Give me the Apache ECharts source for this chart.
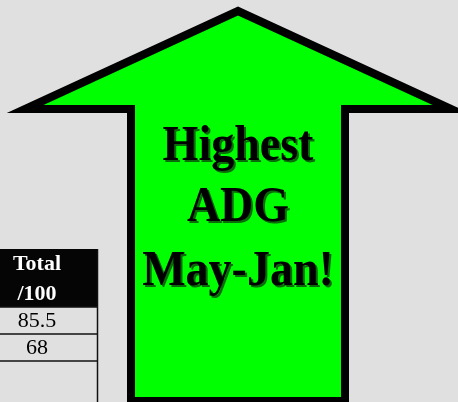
<!DOCTYPE html>
<html>
<head>
<meta charset="utf-8">
<script src="https://cdn.jsdelivr.net/npm/echarts@6/dist/echarts.min.js"></script>
<style>
  html, body { margin: 0; padding: 0; background: #e0e0e0; }
  #chart { width: 458px; height: 402px; }
</style>
</head>
<body>
<div id="chart"></div>
<script>
// table column (cut off on the left)
var headerLines = ['Total', '/100'];
var totalValues = [85.5, 68];
// arrow caption
var arrowLines = ['Highest', 'ADG', 'May-Jan!'];

var chart = echarts.init(document.getElementById('chart'));

var serif = '"Liberation Serif", "Times New Roman", serif';
var graphics = [];

// arrow outline (stroke centre line)
graphics.push({
    type: 'polygon',
    shape: {
        points: [[238, 11], [25, 109], [131, 109], [131, 401], [345, 401], [345, 109], [451, 109]]
    },
    style: { fill: '#00ff00', stroke: '#000', lineWidth: 8, lineJoin: 'miter' }
});

// caption, with a dark green drop shadow
var lineY = [147, 208, 272];
for (var i = 0; i < arrowLines.length; i++) {
    graphics.push({
        type: 'text', x: 240, y: lineY[i] + 2, scaleY: 1.1,
        style: { text: arrowLines[i], fill: '#0b6b0b', font: 'bold 46px ' + serif,
                 textAlign: 'center', textVerticalAlign: 'middle' }
    });
    graphics.push({
        type: 'text', x: 238, y: lineY[i], scaleY: 1.1,
        style: { text: arrowLines[i], fill: '#000', font: 'bold 46px ' + serif,
                 textAlign: 'center', textVerticalAlign: 'middle' }
    });
}

// table header
graphics.push({
    type: 'rect', shape: { x: -20, y: 249, width: 118, height: 58 },
    style: { fill: '#050505' }
});
graphics.push({
    type: 'text', x: 37, y: 279,
    style: { text: headerLines.join('\n'), fill: '#fff', font: 'bold 22px ' + serif,
             lineHeight: 30, textAlign: 'center', textVerticalAlign: 'middle' }
});

// table rows
var rowTop = 307, rowH = 27;
for (var r = 0; r < totalValues.length; r++) {
    graphics.push({
        type: 'line', shape: { x1: -20, y1: rowTop + r * rowH, x2: 98, y2: rowTop + r * rowH },
        style: { stroke: '#111', lineWidth: 1.5 }
    });
    graphics.push({
        type: 'text', x: 37, y: rowTop + r * rowH + rowH / 2 + 1,
        style: { text: String(totalValues[r]), fill: '#000', font: '22px ' + serif,
                 textAlign: 'center', textVerticalAlign: 'middle' }
    });
}
graphics.push({
    type: 'line', shape: { x1: -20, y1: rowTop + totalValues.length * rowH, x2: 98, y2: rowTop + totalValues.length * rowH },
    style: { stroke: '#111', lineWidth: 1.5 }
});
graphics.push({
    type: 'line', shape: { x1: 97.5, y1: 249, x2: 97.5, y2: 402 },
    style: { stroke: '#111', lineWidth: 1.5 }
});

chart.setOption({
    backgroundColor: '#e0e0e0',
    animation: false,
    graphic: graphics
});
</script>
</body>
</html>
